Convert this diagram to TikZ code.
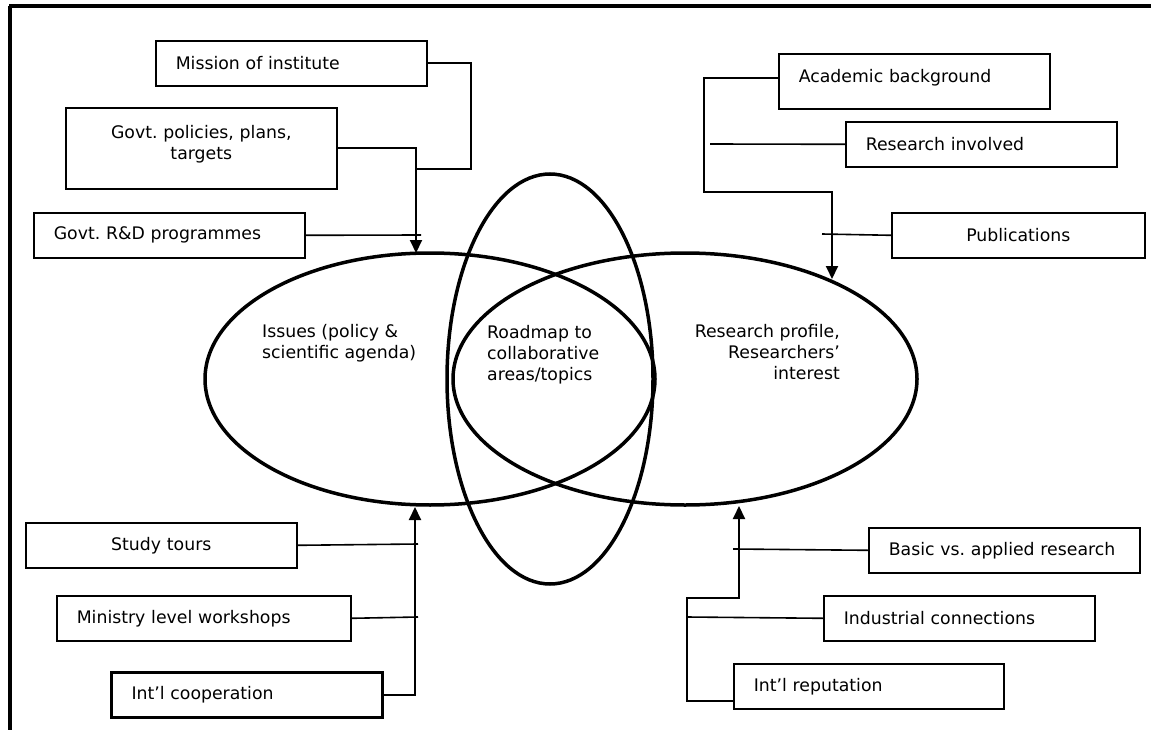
\documentclass[tikz,border=0pt]{standalone}
\usepackage{fontspec}
\setmainfont{DejaVu Sans}
\usetikzlibrary{arrows.meta, calc}
\frenchspacing

\tikzset{
	box/.style={draw, line width=1.6pt, anchor=north west, minimum height=45pt, inner xsep=20pt, inner ysep=0pt, text width=231pt, align=left},
	link/.style={line width=1.6pt},
	feed/.style={line width=2pt, -{Triangle[length=13pt, width=12pt]}},
	ring/.style={line width=3.5pt},
	ringtext/.style={inner sep=0pt}
}

\begin{document}
\begin{tikzpicture}[x=1pt, y=-1pt, font=\fontsize{17.3}{21}\selectfont]
	\useasboundingbox (0,0) rectangle (1151,730);
	\draw[line width=3.5pt] (9,6) -- (1151,6);
	\draw[line width=3.5pt] (10,6) -- (10,730);

	\draw[ring] (430,379) ellipse [x radius=225pt, y radius=126pt];
	\draw[ring] (685,379) ellipse [x radius=232pt, y radius=126pt];
	\draw[ring] (550,379) ellipse [x radius=103pt, y radius=205pt];

	\node[ringtext, anchor=west, align=left] (issues) at (262,343) {Issues (policy \&\\scientific agenda)};
	\node[ringtext, anchor=west, align=left] (roadmap) at (487,355) {Roadmap to\\collaborative\\areas/topics};
	\node[ringtext, anchor=east, align=right] (profile) at (840,352) {Research profile,\\Researchers’\\interest};

	\node[box] (mission) at (155,40) {Mission of institute};
	\node[box, align=center, minimum height=81pt] (policies) at (65,107) {Govt. policies, plans,\\targets\rule[-11.6pt]{0pt}{0pt}};
	\node[box] (rnd) at (33,212) {Govt. R\&D programmes};
	\node[box, minimum height=55pt] (academic) at (778,53) {Academic background\rule[-11.3pt]{0pt}{0pt}};
	\node[box] (involved) at (845,121) {Research involved};
	\node[box, align=center, text width=213pt] (publications) at (891,212) {Publications};
	\node[box, align=center] (study) at (25,522) {Study tours};
	\node[box, text width=254pt] (ministry) at (56,595) {Ministry level workshops};
	\node[box, line width=3pt] (coop) at (110,671) {Int’l cooperation};
	\node[box] (basic) at (868,527) {\mbox{Basic vs. applied research}};
	\node[box] (industrial) at (823,595) {Industrial connections};
	\node[box, text width=230pt] (reputation) at (733,663) {Int’l reputation};

	\coordinate (mj) at (416,169);
	\coordinate (itop) at (416,253);
	\coordinate (rj) at (421,235);
	\draw[link] (mission.east) -| (471,169) -- (mj);
	\draw[feed] (policies.east) -| (itop);
	\draw[link] (rnd.east) -- (rj);

	\coordinate (pbend) at (704,192);
	\coordinate (ptop) at (832,279);
	\coordinate (ij) at (710,144);
	\coordinate (uj) at (822,234);
	\draw[feed] ([yshift=3.5pt]academic.west) -| (pbend) -| (ptop);
	\draw[link] (involved.west) -- (ij);
	\draw[link] (publications.west) -- (uj);

	\coordinate (ibot) at (415,507);
	\coordinate (sj) at (418,544);
	\coordinate (wj) at (418,617);
	\draw[feed] (coop.east) -| (ibot);
	\draw[link] (study.east) -- (sj);
	\draw[link] (ministry.east) -- (wj);

	\coordinate (rbend) at (687,598);
	\coordinate (pbot) at (739,506);
	\coordinate (nj) at (687,617);
	\coordinate (bj) at (733,549);
	\draw[feed] ([yshift=9pt]reputation.south west) -| (rbend) -| (pbot);
	\draw[link] (industrial.west) -- (nj);
	\draw[link] (basic.west) -- (bj);
\end{tikzpicture}
\end{document}
